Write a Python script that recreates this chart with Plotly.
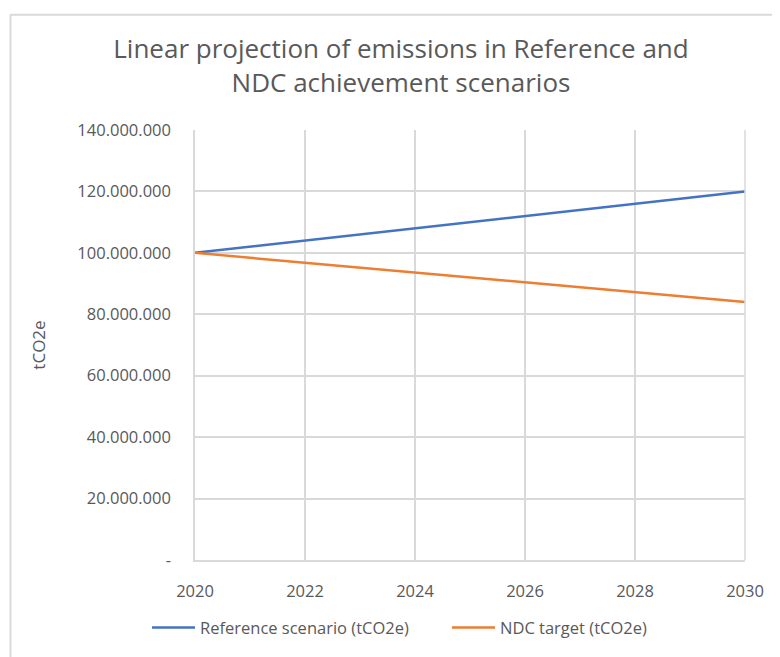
import plotly.graph_objects as go

years = [2020, 2021, 2022, 2023, 2024, 2025, 2026, 2027, 2028, 2029, 2030]
reference = [100e6, 102e6, 104e6, 106e6, 108e6, 110e6, 112e6, 114e6, 116e6, 118e6, 120e6]
ndc = [100e6, 98.4e6, 96.8e6, 95.2e6, 93.6e6, 92e6, 90.4e6, 88.8e6, 87.2e6, 85.6e6, 84e6]
y_tickvals = [0, 20e6, 40e6, 60e6, 80e6, 100e6, 120e6, 140e6]
y_ticktext = ["-", "20.000.000", "40.000.000", "60.000.000", "80.000.000",
              "100.000.000", "120.000.000", "140.000.000"]

FONT = "Open Sans"
GREY = "#595959"
GRID = "#d9d9d9"

# page body has an 8px margin; work in screen pixels and convert
OFF = 8
W, H = 780 - OFF, 657 - OFF
L = 195 - OFF
T = 130 - OFF
R = W - (745 - OFF)
B = H - (567 - OFF)
pw, ph = W - L - R, H - T - B


def px_x(sx):
    return (sx - OFF - L) / pw


def px_y(sy):
    return (H - B - (sy - OFF)) / ph


fig = go.Figure()
fig.add_trace(go.Scatter(x=years, y=reference, mode="lines", name="Reference scenario (tCO2e)",
                         line=dict(color="#4472C4", width=2.5), legend="legend"))
fig.add_trace(go.Scatter(x=years, y=ndc, mode="lines", name="NDC target (tCO2e)",
                         line=dict(color="#ED7D31", width=2.5), legend="legend2"))

legend_common = dict(orientation="h", yanchor="middle", y=px_y(636), xanchor="left",
                     font=dict(size=16.5, color=GREY), itemwidth=43,
                     bgcolor="rgba(0,0,0,0)")

fig.update_layout(
    width=W, height=H,
    margin=dict(l=L, r=R, t=T, b=B),
    paper_bgcolor="white", plot_bgcolor="white",
    font=dict(family=FONT, color=GREY, size=16),
    title=dict(text="Linear projection of emissions in Reference and<br>NDC achievement scenarios",
               x=px_x(401), xref="paper", xanchor="center",
               y=1 - (58 - OFF) / H, yanchor="middle",
               font=dict(size=26, color=GREY, family=FONT)),
    showlegend=True,
    legend=dict(x=px_x(147), **legend_common),
    legend2=dict(x=px_x(447), **legend_common),
    xaxis=dict(range=[2020, 2030], tick0=2020, dtick=2, showgrid=True,
               gridcolor=GRID, gridwidth=1.5, showline=True, linecolor=GRID,
               linewidth=1.5, mirror=False, zeroline=False, ticks="",
               tickfont=dict(size=16.5, color=GREY), ticklabelstandoff=15),
    yaxis=dict(range=[0, 140e6], tickvals=y_tickvals, ticktext=y_ticktext,
               showgrid=True, gridcolor=GRID, gridwidth=1.5, showline=True,
               linecolor=GRID, linewidth=1.5, zeroline=False, ticks="",
               tickfont=dict(size=16.5, color=GREY), ticklabelstandoff=19,
               title=dict(text="tCO2e", font=dict(size=17, color=GREY), standoff=27)),
    shapes=[
        dict(type="line", xref="paper", yref="paper",
             x0=px_x(10), x1=px_x(800),
             y0=px_y(13), y1=px_y(13),
             line=dict(color=GRID, width=2)),
        dict(type="line", xref="paper", yref="paper",
             x0=px_x(10.5), x1=px_x(10.5),
             y0=px_y(13), y1=px_y(680),
             line=dict(color=GRID, width=2)),
        dict(type="line", xref="paper", yref="paper",
             x0=1, x1=1, y0=0, y1=1,
             line=dict(color=GRID, width=1.5)),
    ],
)

fig.write_html("out.html")
